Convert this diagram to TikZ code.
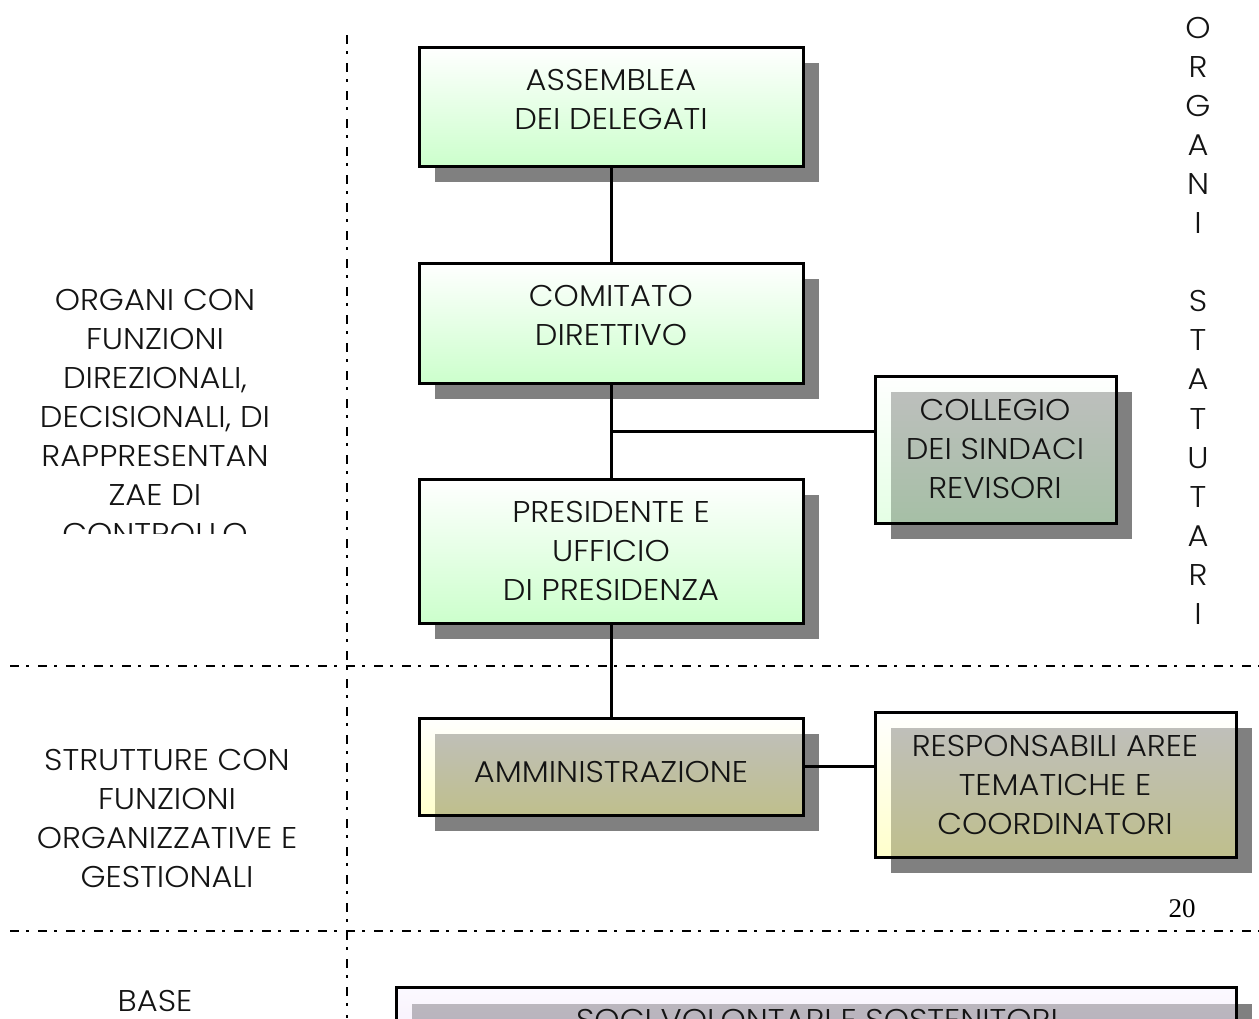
\documentclass[tikz,border=0pt]{standalone}
\usepackage{fontspec}
\setmainfont{Poppins}[FakeStretch=1.07, UprightFont=* Light]
\newfontfamily\timesf{Liberation Serif}
\definecolor{shadowgray}{RGB}{128,128,128}
\definecolor{greenb}{RGB}{204,255,204}
\definecolor{yellowb}{RGB}{255,255,153}
\definecolor{lavtop}{RGB}{250,244,255}
\definecolor{lavbot}{RGB}{225,205,245}
\definecolor{inkc}{RGB}{20,20,20}
\begin{document}
\begin{tikzpicture}[x=1pt,y=-1pt,
  every node/.style={text=inkc},
  lbl/.style={align=center, inner sep=0pt, anchor=base, font=\fontsize{30}{39}\selectfont},
  box/.style={draw=black, line width=3pt, rectangle, inner sep=0pt, minimum width=384pt},
  greenbox/.style={box, top color=white, bottom color=greenb},
  glassbox/.style={box, fill opacity=0.5, draw opacity=1},
  shadowfill/.style={fill=shadowgray},
  conn/.style={line width=3pt},
  sepline/.style={line width=2.6pt, dash pattern=on 9pt off 7pt on 3pt off 9pt}]
\useasboundingbox (0,0) rectangle (1259,1018);
\fill[white] (0,0) rectangle (1259,1018);
\begin{scope}
\clip (0,0) rectangle (1259,1018);
% shadows
\fill[shadowfill] (435,63) rectangle (819,182);
\fill[shadowfill] (435,279) rectangle (819,399);
\fill[shadowfill] (435,495) rectangle (819,639);
\fill[shadowfill] (891,392) rectangle (1132,539);
\fill[shadowfill] (435,734) rectangle (819,831);
\fill[shadowfill] (891,728) rectangle (1252,873);
\fill[shadowfill] (412,1004) rectangle (1252,1120);
% boxes
\node[greenbox, minimum height=119pt] (asm) at (611,106.5) {};
\node[greenbox, minimum height=120pt] (com) at (611,323) {};
\node[greenbox, minimum height=144pt] (pres) at (611,551) {};
\node[glassbox, top color=white, bottom color=greenb, minimum width=241pt, minimum height=147pt] (col) at (995.5,449.5) {};
\node[glassbox, top color=white, bottom color=yellowb, minimum height=97pt] (amm) at (611,766.5) {};
\node[glassbox, top color=white, bottom color=yellowb, minimum width=361pt, minimum height=145pt] (resp) at (1055.5,784.5) {};
\node[glassbox, top color=lavtop, bottom color=lavbot, minimum width=840pt, minimum height=113pt] (soci) at (816,1043.5) {};
% box texts (anchor = baseline of last line)
\node[lbl] (tasm) at (611,129) {ASSEMBLEA\\DEI DELEGATI};
\node[lbl] (tcom) at (611,345) {COMITATO\\DIRETTIVO};
\node[lbl] (tpres) at (611,600) {PRESIDENTE E\\UFFICIO\\DI PRESIDENZA};
\node[lbl] (tcol) at (995,498) {COLLEGIO\\DEI SINDACI\\REVISORI};
\node[lbl] (tamm) at (611,782) {AMMINISTRAZIONE};
\node[lbl] (tresp) at (1055,834) {RESPONSABILI AREE\\TEMATICHE E\\COORDINATORI};
\node[lbl] (tsoci) at (817,1030) {SOCI VOLONTARI E SOSTENITORI};
% connectors
\coordinate (jcol) at (611,431);
\draw[conn] (asm.south) -- (com.north);
\draw[conn] (com.south) -- (pres.north);
\draw[conn] (pres.south) -- (amm.north);
\draw[conn] (jcol) -- (col.west |- jcol);
\draw[conn] (amm.east) -- (amm.east -| resp.west);
% separators
\draw[sepline] (10,666) -- (1259,666);
\draw[sepline] (10,931) -- (1259,931);
\draw[sepline] (347,35) -- (347,1018);
% side texts
\begin{scope}
\clip (0,260) rectangle (340,533);
\node[lbl] (torg) at (155,544) {ORGANI CON\\FUNZIONI\\DIREZIONALI,\\DECISIONALI, DI\\RAPPRESENTAN\\ZAE DI\\CONTROLLO};
\end{scope}
\node[lbl] (tstr) at (167,887) {STRUTTURE CON\\FUNZIONI\\ORGANIZZATIVE E\\GESTIONALI};
\node[lbl] (tbase) at (155,1011) {BASE};
\node[lbl, font=\fontsize{30}{39.1}\selectfont] (tstat) at (1198,624.5) {O\\R\\G\\A\\N\\I\\\mbox{}\\S\\T\\A\\T\\U\\T\\A\\R\\I};
\node[inner sep=0pt, anchor=base, font=\timesf\fontsize{27}{30}\selectfont, text=black] (pg) at (1182,917) {20};
\end{scope}
\end{tikzpicture}
\end{document}
